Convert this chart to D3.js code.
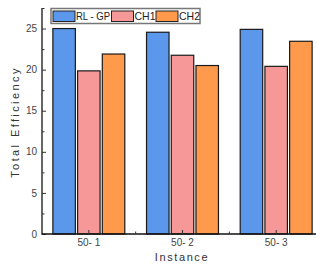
<!DOCTYPE html>
<html>
<head>
<meta charset="utf-8">
<script src="https://cdnjs.cloudflare.com/ajax/libs/d3/7.8.5/d3.min.js"></script>
<style>
  body { margin: 0; background: #fff; }
  svg { display: block; font-family: "Liberation Sans", Arial, sans-serif; }
</style>
</head>
<body>
<svg id="chart" width="316" height="269"></svg>
<script>
var categories = ['50- 1', '50- 2', '50- 3'];
var seriesNames = ['RL - GP', 'CH1', 'CH2'];
var rlgp = [25.0, 24.55, 24.9];
var ch1 = [19.85, 21.75, 20.4];
var ch2 = [21.9, 20.5, 23.45];
var yTicks = [0, 5, 10, 15, 20, 25];
var colors = ['#5b97eb', '#f69898', '#ff9a4d'];

var svg = d3.select('#chart');
var plotLeft = 42, plotRight = 323, plotTop = 8, plotBottom = 234;

var x = d3.scaleBand().domain(categories).range([plotLeft, plotRight]).paddingInner(0).paddingOuter(0);
var xs = d3.scaleBand().domain(seriesNames).range([0, x.bandwidth()]).paddingInner(0.09).paddingOuter(0.44);
var y = d3.scaleLinear().domain([0, 27.5]).range([plotBottom, plotTop]);

var rows = categories.map(function(c, i) {
    return { cat: c, vals: [rlgp[i], ch1[i], ch2[i]] };
});

// bars
var groups = svg.selectAll('g.grp').data(rows).enter().append('g')
    .attr('class', 'grp')
    .attr('transform', function(d) { return 'translate(' + x(d.cat) + ',0)'; });

groups.selectAll('rect').data(function(d) {
        return d.vals.map(function(v, j) { return { name: seriesNames[j], v: v, j: j }; });
    }).enter().append('rect')
    .attr('x', function(d) { return xs(d.name); })
    .attr('y', function(d) { return y(d.v); })
    .attr('width', xs.bandwidth())
    .attr('height', function(d) { return plotBottom - y(d.v); })
    .style('fill', function(d) { return colors[d.j]; })
    .style('stroke', '#1a1a1a')
    .style('stroke-width', 1.2);

// y axis, ticks inside
var yAxis = d3.axisRight(y).tickValues(d3.range(0, 27.6, 2.5)).tickSize(0).tickFormat('');
var ya = svg.append('g').attr('transform', 'translate(' + plotLeft + ',0)').call(yAxis);
ya.select('.domain').remove();
ya.selectAll('.tick line')
    .attr('x2', function(d) { return d % 5 === 0 ? 4 : 2.5; })
    .style('stroke', '#333').style('stroke-width', 1);
svg.append('line').attr('x1', plotLeft).attr('x2', plotLeft).attr('y1', plotTop).attr('y2', plotBottom + 0.8)
    .style('stroke', '#333').style('stroke-width', 1.5);

svg.selectAll('text.ytick').data(yTicks).enter().append('text')
    .attr('class', 'ytick')
    .attr('x', 37).attr('y', function(d) { return y(d) + 3.6; })
    .attr('text-anchor', 'end')
    .style('font-size', '10px').style('fill', '#444')
    .text(function(d) { return d; });

// x axis
svg.append('line').attr('x1', plotLeft).attr('x2', 316).attr('y1', plotBottom).attr('y2', plotBottom)
    .style('stroke', '#111').style('stroke-width', 1.5);
svg.selectAll('line.xtick').data(categories).enter().append('line')
    .attr('class', 'xtick')
    .attr('x1', function(d) { return x(d) + x.bandwidth() / 2; })
    .attr('x2', function(d) { return x(d) + x.bandwidth() / 2; })
    .attr('y1', plotBottom).attr('y2', plotBottom - 4)
    .style('stroke', '#333').style('stroke-width', 1);
svg.selectAll('line.xminor').data(categories.slice(1)).enter().append('line')
    .attr('class', 'xminor')
    .attr('x1', function(d) { return x(d); })
    .attr('x2', function(d) { return x(d); })
    .attr('y1', plotBottom).attr('y2', plotBottom - 2.5)
    .style('stroke', '#333').style('stroke-width', 1);
svg.selectAll('text.xtick').data(categories).enter().append('text')
    .attr('class', 'xtick')
    .attr('x', function(d) { return x(d) + x.bandwidth() / 2; })
    .attr('y', 246)
    .attr('text-anchor', 'middle')
    .style('font-size', '10px').style('fill', '#444')
    .text(function(d) { return d; });

// axis titles
svg.append('text')
    .attr('x', 182).attr('y', 261)
    .attr('text-anchor', 'middle')
    .style('font-size', '11px').style('letter-spacing', '1.6px').style('fill', '#333')
    .text('Instance');
svg.append('text')
    .attr('transform', 'translate(19,122) rotate(-90)')
    .attr('text-anchor', 'middle')
    .style('font-size', '11px').style('letter-spacing', '2.4px').style('fill', '#333')
    .text('Total Efficiency');

// legend
var lg = svg.append('g');
lg.append('rect').attr('x', 51).attr('y', 8.5).attr('width', 149).attr('height', 15)
    .style('fill', '#fff').style('stroke', '#777').style('stroke-width', 1.5);
var legX = [53, 111.5, 156];
var legW = [34, 21, 21];
seriesNames.forEach(function(n, i) {
    lg.append('rect').attr('x', legX[i]).attr('y', 11).attr('width', 22).attr('height', 10.5)
        .style('fill', colors[i]).style('stroke', '#222').style('stroke-width', 1);
    lg.append('text').attr('x', legX[i] + 23).attr('y', 20)
        .attr('textLength', legW[i]).attr('lengthAdjust', 'spacingAndGlyphs')
        .style('font-size', '10.5px').style('fill', '#222')
        .text(n);
});
</script>
</body>
</html>
